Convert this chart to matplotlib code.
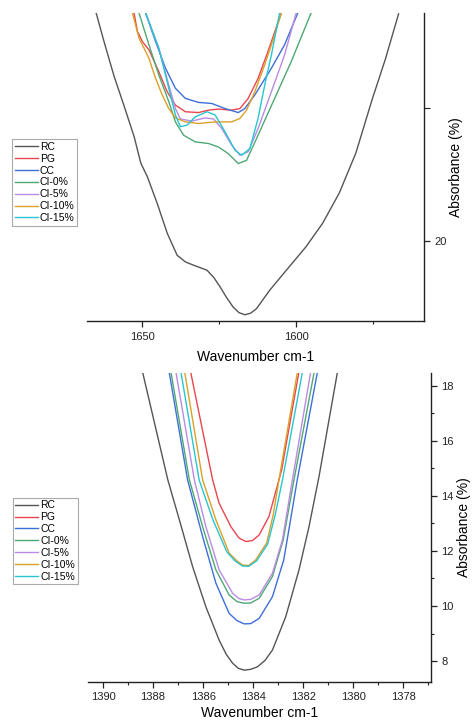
import matplotlib

matplotlib.use('agg')
import matplotlib.pyplot as plt
import matplotlib.ticker as plticker

plt.rcParams['font.family'] = ['Liberation Sans', 'DejaVu Sans']

labels = ['RC', 'PG', 'CC', 'CI-0%', 'CI-5%', 'CI-10%', 'CI-15%']
colors = ['#555555', '#e9464d', '#3d6fd8', '#4fa874', '#b98be3', '#dba028', '#27c6cf']

# top panel: 1670-1560 cm-1 region
top_rc_x = [1665.1, 1662.4, 1659.2, 1655.9, 1652.7, 1650.5, 1648.4, 1645.2, 1641.9, 1638.7,
            1636.0, 1633.4, 1629.0, 1626.8, 1624.7, 1622.6, 1620.5, 1618.6, 1616.7, 1614.8,
            1612.9, 1608.6, 1603.2, 1596.8, 1591.4, 1586.0, 1580.6, 1575.3, 1571.0, 1566.7]
top_rc_y = [28.58, 27.45, 26.18, 25.05, 23.92, 22.92, 22.42, 21.42, 20.29, 19.47,
            19.22, 19.10, 18.91, 18.64, 18.28, 17.88, 17.53, 17.32, 17.24, 17.30,
            17.47, 18.16, 18.91, 19.79, 20.67, 21.80, 23.30, 25.31, 26.82, 28.52]
top_pg_x = [1652.71, 1651.61, 1650.00, 1647.87, 1644.65, 1641.94, 1639.26, 1636.03, 1631.74,
            1628.52, 1625.29, 1620.97, 1618.29, 1615.61, 1612.39, 1609.16, 1604.84]
top_pg_y = [28.55, 27.86, 27.48, 27.17, 26.35, 25.60, 25.10, 24.85, 24.82,
            24.91, 24.95, 24.91, 24.97, 25.35, 26.10, 27.11, 28.55]
top_cc_x = [1648.94, 1645.71, 1642.48, 1639.26, 1636.03, 1631.74, 1627.42, 1623.13, 1618.84,
            1616.68, 1613.45, 1608.06, 1603.77, 1599.48]
top_cc_y = [28.55, 27.48, 26.48, 25.73, 25.35, 25.20, 25.16, 24.97, 24.82,
            24.97, 25.48, 26.48, 27.36, 28.55]
top_ci0_x = [1651.10, 1647.87, 1644.65, 1641.42, 1639.26, 1636.58, 1632.81, 1628.52, 1625.29,
             1622.06, 1618.84, 1616.13, 1612.39, 1607.00, 1601.61, 1595.16]
top_ci0_y = [28.55, 27.36, 26.23, 25.23, 24.47, 23.97, 23.72, 23.66, 23.53,
             23.28, 22.91, 23.03, 23.97, 25.35, 26.73, 28.55]
top_ci5_x = [1648.94, 1644.65, 1641.42, 1639.26, 1637.65, 1633.87, 1629.58, 1626.90, 1624.19,
             1620.97, 1618.29, 1615.61, 1612.39, 1608.06, 1603.77, 1600.00]
top_ci5_y = [28.55, 27.23, 25.85, 24.97, 24.58, 24.50, 24.62, 24.58, 24.22,
             23.60, 23.22, 23.35, 24.22, 25.60, 26.98, 28.55]
top_ci10_x = [1653.23, 1651.10, 1648.94, 1647.87, 1645.71, 1643.55, 1641.42, 1639.26, 1636.03,
              1631.74, 1626.36, 1620.97, 1618.29, 1616.13, 1613.45, 1610.23, 1607.00, 1604.84]
top_ci10_y = [28.55, 27.61, 27.11, 26.85, 26.10, 25.48, 24.97, 24.62, 24.47,
              24.41, 24.47, 24.47, 24.60, 24.91, 25.60, 26.61, 27.73, 28.55]
top_ci15_x = [1648.94, 1644.65, 1641.42, 1639.26, 1637.65, 1635.48, 1632.81, 1629.03, 1626.36,
              1623.13, 1619.90, 1617.74, 1615.06, 1612.39, 1610.23, 1608.06, 1605.39]
top_ci15_y = [28.55, 27.23, 25.73, 24.73, 24.29, 24.35, 24.66, 24.85, 24.73,
              24.10, 23.41, 23.22, 23.47, 24.60, 25.85, 26.98, 28.55]

# bottom panel: 1384 cm-1 band
bot_rc_x = [1388.41, 1387.41, 1386.95, 1386.42, 1385.89, 1385.36, 1385.08, 1384.82, 1384.60,
            1384.36, 1384.10, 1383.83, 1383.53, 1383.23, 1382.70, 1382.17, 1381.77, 1381.37,
            1380.64]
bot_rc_y = [18.46, 14.58, 13.13, 11.43, 9.97, 8.76, 8.25, 7.92, 7.74,
            7.67, 7.70, 7.79, 8.02, 8.40, 9.61, 11.31, 12.88, 14.70,
            18.46]
bot_pg_x = [1386.49, 1385.62, 1385.36, 1384.89, 1384.57, 1384.29, 1384.02, 1383.76, 1383.37,
            1383.08, 1382.86, 1382.18]
bot_pg_y = [18.46, 14.58, 13.73, 12.88, 12.47, 12.34, 12.38, 12.58, 13.25,
            14.22, 14.95, 18.46]
bot_cc_x = [1387.35, 1386.62, 1386.02, 1385.49, 1384.96, 1384.65, 1384.36, 1384.10, 1383.76,
            1383.23, 1382.78, 1382.54, 1382.24, 1381.44]
bot_cc_y = [18.46, 14.58, 12.52, 10.83, 9.73, 9.47, 9.35, 9.36, 9.55,
            10.34, 11.67, 12.95, 14.58, 18.46]
bot_ci0_x = [1387.28, 1386.55, 1386.02, 1385.49, 1384.96, 1384.65, 1384.36, 1384.10, 1383.76,
             1383.23, 1382.80, 1382.37, 1381.57]
bot_ci0_y = [18.46, 14.58, 12.88, 11.31, 10.40, 10.16, 10.10, 10.11, 10.28,
             11.07, 12.40, 14.58, 18.46]
bot_ci5_x = [1387.08, 1386.35, 1385.89, 1385.36, 1384.82, 1384.57, 1384.36, 1384.10, 1383.76,
             1383.23, 1382.83, 1382.50, 1381.71]
bot_ci5_y = [18.46, 14.58, 12.88, 11.31, 10.46, 10.27, 10.22, 10.24, 10.40,
             11.19, 12.40, 14.22, 18.46]
bot_ci10_x = [1386.73, 1386.02, 1385.49, 1384.96, 1384.65, 1384.43, 1384.18, 1383.90, 1383.46,
              1383.20, 1382.97, 1382.24]
bot_ci10_y = [18.46, 14.58, 13.13, 11.92, 11.64, 11.49, 11.47, 11.67, 12.29,
              13.31, 14.58, 18.46]
bot_ci15_x = [1386.88, 1386.16, 1385.61, 1385.05, 1384.73, 1384.43, 1384.18, 1383.86, 1383.42,
              1383.12, 1382.83, 1382.04]
bot_ci15_y = [18.46, 14.58, 13.13, 11.96, 11.64, 11.45, 11.44, 11.64, 12.25,
              13.31, 14.58, 18.46]

top_series = [(top_rc_x, top_rc_y), (top_pg_x, top_pg_y), (top_cc_x, top_cc_y),
              (top_ci0_x, top_ci0_y), (top_ci5_x, top_ci5_y), (top_ci10_x, top_ci10_y),
              (top_ci15_x, top_ci15_y)]
bot_series = [(bot_rc_x, bot_rc_y), (bot_pg_x, bot_pg_y), (bot_cc_x, bot_cc_y),
              (bot_ci0_x, bot_ci0_y), (bot_ci5_x, bot_ci5_y), (bot_ci10_x, bot_ci10_y),
              (bot_ci15_x, bot_ci15_y)]

fig = plt.figure(figsize=(4.73, 7.25), dpi=100)
ax1 = fig.add_axes([0.184, 0.557, 0.712, 0.425])
ax2 = fig.add_axes([0.186, 0.0597, 0.725, 0.4258])


def style_axis(ax):
    ax.spines['left'].set_visible(False)
    ax.spines['top'].set_visible(False)
    for s in ('right', 'bottom'):
        ax.spines[s].set_linewidth(1.0)
        ax.spines[s].set_color('#222222')
    ax.yaxis.tick_right()
    ax.yaxis.set_label_position('right')
    ax.tick_params(which='major', direction='out', length=4, width=0.9, labelsize=8,
                   colors='#222222')
    ax.tick_params(which='minor', direction='out', length=2.5, width=0.8, colors='#222222')
    ax.set_ylabel('Absorbance (%)', fontsize=10, labelpad=2)


for (x, y), lab, c in zip(top_series, labels, colors):
    ax1.plot(x, y, color=c, lw=1.0, label=lab, solid_joinstyle='round')
ax1.set_xlim(1668, 1558.5)
ax1.set_ylim(17.0, 28.55)
ax1.xaxis.set_major_locator(plticker.MultipleLocator(50))
ax1.xaxis.set_minor_locator(plticker.MultipleLocator(25))
ax1.yaxis.set_major_locator(plticker.MultipleLocator(10))
ax1.yaxis.set_minor_locator(plticker.MultipleLocator(5))
style_axis(ax1)
ax1.tick_params(axis='y', which='minor', length=4)
ax1.set_xlabel('Wavenumber cm-1', fontsize=10, labelpad=6)

for (x, y), lab, c in zip(bot_series, labels, colors):
    ax2.plot(x, y, color=c, lw=1.0, label=lab, solid_joinstyle='round')
ax2.set_xlim(1390.6, 1376.9)
ax2.set_ylim(7.25, 18.46)
ax2.xaxis.set_major_locator(plticker.MultipleLocator(2))
ax2.xaxis.set_minor_locator(plticker.MultipleLocator(1))
ax2.yaxis.set_major_locator(plticker.MultipleLocator(2))
ax2.yaxis.set_minor_locator(plticker.MultipleLocator(1))
style_axis(ax2)
ax2.set_xlabel('Wavenumber cm-1', fontsize=10, labelpad=3)

for ax, anchor in ((ax1, (0.026, 0.808)), (ax2, (0.027, 0.3135))):
    leg = ax.legend(loc='upper left', bbox_to_anchor=anchor, bbox_transform=fig.transFigure,
                    fontsize=7.5, frameon=True, fancybox=False, framealpha=1,
                    borderaxespad=0, borderpad=0.25, labelspacing=0.18,
                    handlelength=2.2, handletextpad=0.2)
    leg.get_frame().set_edgecolor('#aaaaaa')
    leg.get_frame().set_linewidth(0.8)

plt.savefig('out.png', dpi=100)
